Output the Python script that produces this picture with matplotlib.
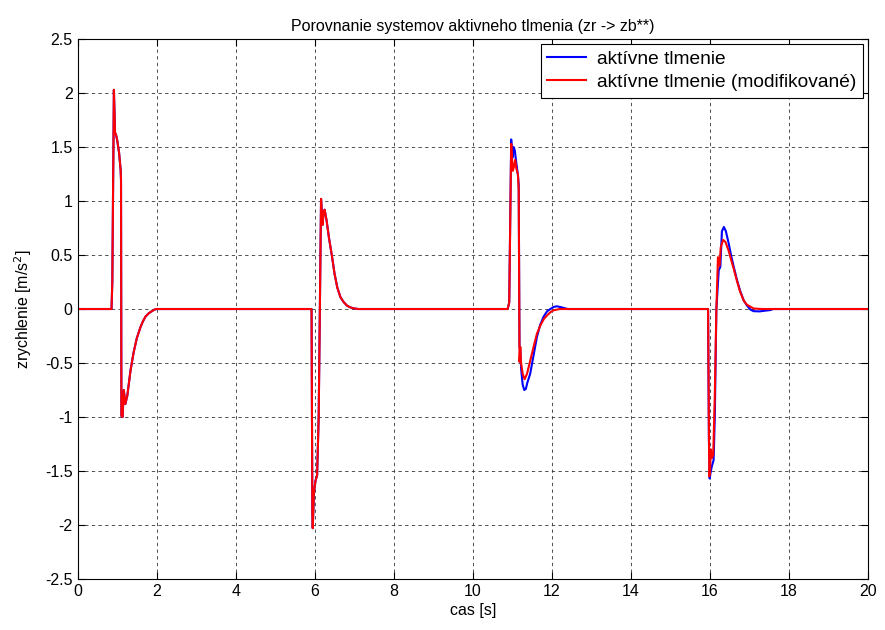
import matplotlib.pyplot as plt
from matplotlib.ticker import FormatStrFormatter

# time [s] and acceleration [m/s^2] around each of the four road inputs
# pulses 1 and 2 are the same for both controllers
p1_t = [0, 0.86, 0.88, 0.92, 0.95, 0.97, 1.00, 1.05, 1.09, 1.10, 1.11, 1.14, 1.17, 1.21,
        1.26, 1.34, 1.42, 1.50, 1.59, 1.66, 1.72, 1.80, 1.88, 1.95, 2.0]
p1_a = [0, 0, 0.25, 2.03, 1.62, 1.62, 1.57, 1.45, 1.29, 1.20, -0.99, -1.0, -0.75, -0.88,
        -0.80, -0.57, -0.40, -0.27, -0.17, -0.11, -0.07, -0.04, -0.02, -0.005, 0]

p2_t = [5.92, 5.94, 5.95, 5.98, 6.02, 6.06, 6.10, 6.13, 6.16, 6.18, 6.20, 6.22, 6.25, 6.30,
        6.36, 6.44, 6.50, 6.57, 6.65, 6.73, 6.82, 6.90, 7.0, 7.1]
p2_a = [0, -1.9, -2.03, -1.70, -1.59, -1.54, -1.0, 0.0, 1.02, 0.90, 0.78, 0.88, 0.92, 0.82,
        0.66, 0.48, 0.33, 0.20, 0.11, 0.065, 0.03, 0.015, 0.005, 0]

# pulse 3 - active damping
p3_t_akt = [10.88, 10.92, 10.97, 11.00, 11.03, 11.06, 11.10, 11.14, 11.16, 11.18, 11.20, 11.22,
            11.26, 11.30, 11.34, 11.38, 11.45, 11.55, 11.62, 11.70, 11.79, 11.88, 11.96, 12.05,
            12.13, 12.25, 12.40, 12.5]
p3_a_akt = [0, 0.06, 1.57, 1.40, 1.50, 1.47, 1.35, 1.24, 1.15, -0.35, -0.38, -0.55,
            -0.70, -0.75, -0.74, -0.68, -0.60, -0.40, -0.26, -0.15, -0.07, -0.02, 0.0, 0.02,
            0.025, 0.015, 0.0, 0]
# pulse 3 - modified
p3_t_mod = [10.88, 10.92, 10.97, 11.01, 11.04, 11.07, 11.10, 11.14, 11.16, 11.18, 11.20, 11.22,
            11.26, 11.31, 11.37, 11.45, 11.55, 11.62, 11.71, 11.80, 11.88, 11.96, 12.04, 12.2]
p3_a_mod = [0, 0.06, 1.53, 1.28, 1.32, 1.38, 1.30, 1.25, 1.10, -0.49, -0.35, -0.50,
            -0.60, -0.65, -0.60, -0.48, -0.33, -0.23, -0.15, -0.09, -0.058, -0.03, -0.012, 0]

# pulse 4 - active damping
p4_t_akt = [15.95, 15.97, 15.99, 16.02, 16.05, 16.09, 16.12, 16.16, 16.22, 16.26, 16.30, 16.35,
            16.40, 16.47, 16.53, 16.60, 16.68, 16.76, 16.85, 16.93, 17.02, 17.10, 17.25, 17.40,
            17.52, 17.6]
p4_a_akt = [0, -1.20, -1.57, -1.50, -1.45, -1.40, -1.0, 0.0, 0.36, 0.39, 0.72, 0.76,
            0.72, 0.61, 0.50, 0.39, 0.27, 0.17, 0.08, 0.034, -0.005, -0.02, -0.022, -0.015,
            -0.01, 0]
# pulse 4 - modified
p4_t_mod = [15.95, 15.98, 16.00, 16.02, 16.05, 16.08, 16.12, 16.16, 16.20, 16.24, 16.27, 16.33,
            16.39, 16.47, 16.53, 16.60, 16.68, 16.76, 16.85, 16.93, 17.10, 17.3]
p4_a_mod = [0, -1.55, -1.50, -1.30, -1.38, -1.35, -0.8, 0.0, 0.48, 0.40, 0.57, 0.64,
            0.62, 0.54, 0.46, 0.37, 0.26, 0.16, 0.08, 0.04, 0.005, 0]

t_akt = [0] + p1_t + p2_t + p3_t_akt + p4_t_akt + [20]
a_akt = [0] + p1_a + p2_a + p3_a_akt + p4_a_akt + [0]
t_mod = [0] + p1_t + p2_t + p3_t_mod + p4_t_mod + [20]
a_mod = [0] + p1_a + p2_a + p3_a_mod + p4_a_mod + [0]

plt.rcParams['font.family'] = ['Liberation Sans', 'DejaVu Sans']
plt.rcParams['font.size'] = 11.5

fig = plt.figure(figsize=(8.85, 6.3), dpi=100)
ax = fig.add_axes([0.0876, 0.081, 0.8934, 0.857])

ax.plot(t_akt, a_akt, color='#0000ff', lw=1.5, label='aktívne tlmenie')
ax.plot(t_mod, a_mod, color='#ff0000', lw=1.5, label='aktívne tlmenie (modifikované)')

ax.set_xlim(0, 20)
ax.set_ylim(-2.5, 2.5)
ax.set_xticks(range(0, 21, 2))
ax.set_yticks([-2.5, -2, -1.5, -1, -0.5, 0, 0.5, 1, 1.5, 2, 2.5])
ax.yaxis.set_major_formatter(FormatStrFormatter('%g'))
ax.tick_params(direction='in', top=True, right=True, length=5, labelsize=11.5)
ax.grid(True, color='0.2', linestyle=(0, (4, 4)), linewidth=0.6)

ax.set_title('Porovnanie systemov aktivneho tlmenia (zr -> zb**)', fontsize=11.5)
ax.set_xlabel('cas [s]', fontsize=11.5, labelpad=3)
ax.set_ylabel('zrychlenie [m/s$^2$]', fontsize=11.5, labelpad=8)

leg = ax.legend(loc='upper right', fancybox=False, edgecolor='k', framealpha=1,
                borderaxespad=0.25, handlelength=2.0, handletextpad=0.6, fontsize=13.8,
                borderpad=0.35, labelspacing=0.3)
leg.get_frame().set_linewidth(0.8)

fig.savefig('out.png', dpi=100)
